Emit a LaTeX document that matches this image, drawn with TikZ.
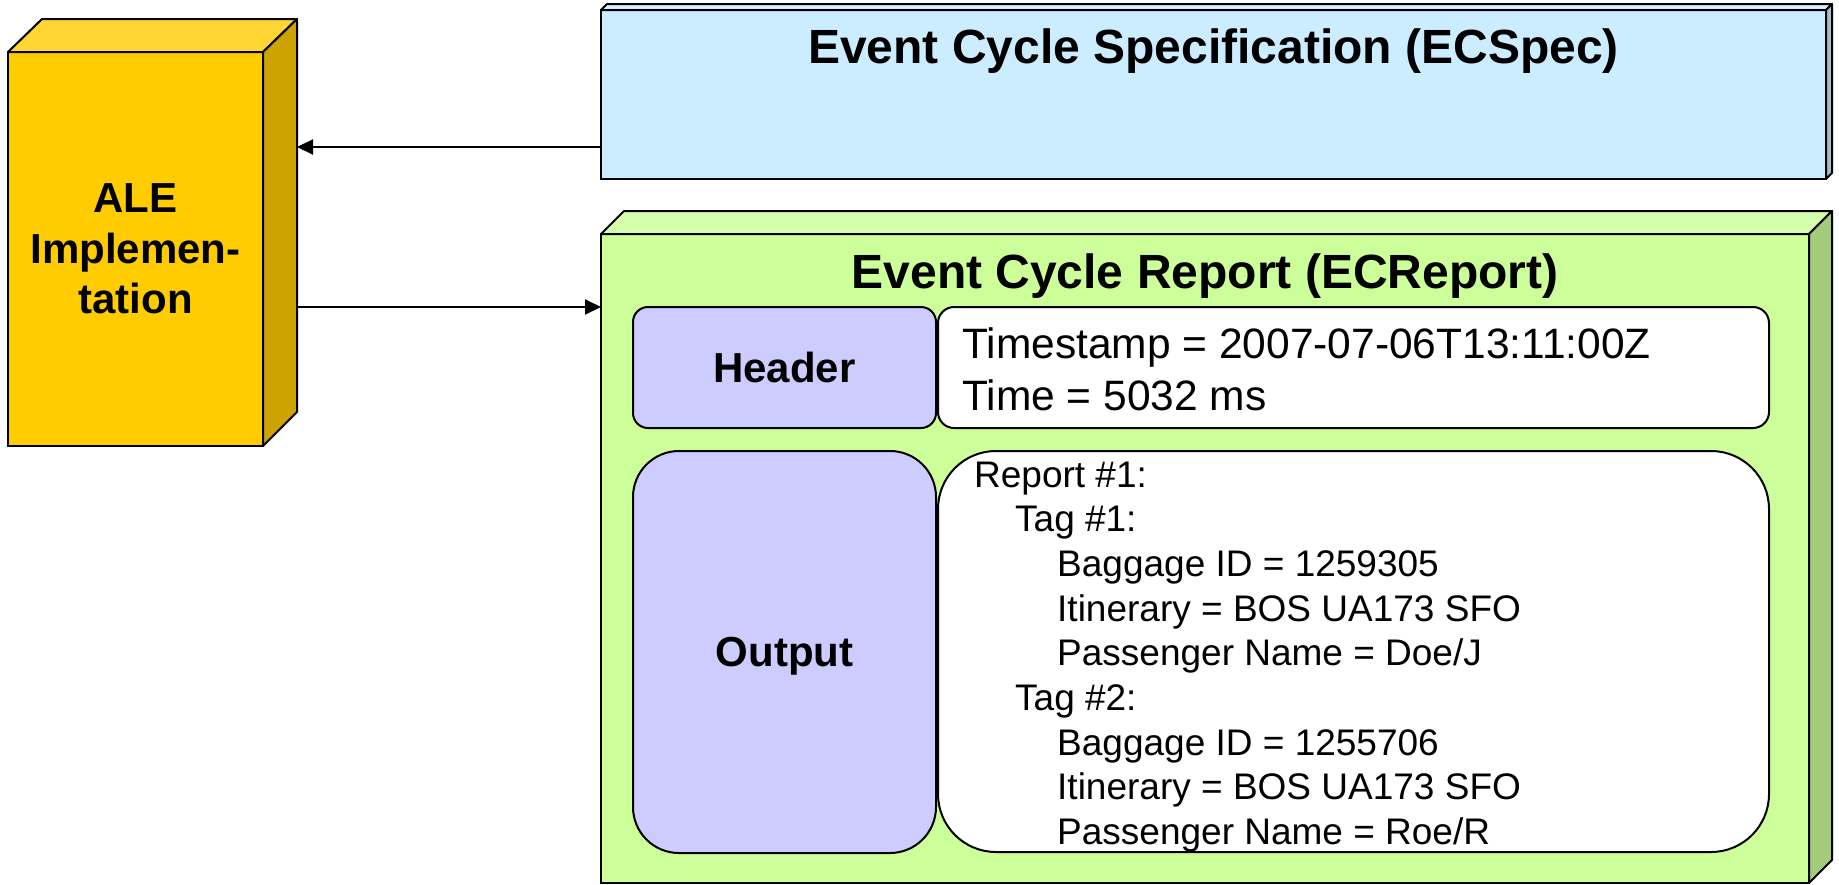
\documentclass[tikz,border=0pt]{standalone}
\usepackage{fontspec}
\setmainfont{Liberation Sans}
\usetikzlibrary{arrows.meta}
\definecolor{aleF}{HTML}{FFCC00}
\definecolor{aleT}{HTML}{FFD633}
\definecolor{aleR}{HTML}{CCA300}
\definecolor{specF}{HTML}{CCECFF}
\definecolor{specT}{HTML}{D6F0FF}
\definecolor{specR}{HTML}{A3BDCC}
\definecolor{repF}{HTML}{CCFF99}
\definecolor{repT}{HTML}{D6FFAD}
\definecolor{repR}{HTML}{A3CC7A}
\definecolor{lav}{HTML}{CCCCFF}
\tikzset{
  box/.style={draw, line width=2pt, inner sep=0pt, outer sep=0pt, anchor=north west},
  face/.style={draw, line width=2pt, line join=round},
  lbl/.style={box, fill=lav, font=\bfseries\fontsize{42}{50}\selectfont},
  title/.style={anchor=base, inner sep=0pt, font=\bfseries\fontsize{48}{58}\selectfont},
  hdrtxt/.style={anchor=base west, inner sep=0pt, font=\fontsize{42.5}{53}\selectfont},
  outtxt/.style={anchor=base west, inner sep=0pt, font=\fontsize{37}{44.7}\selectfont},
  arr/.style={line width=2pt, -{Triangle[length=16pt,width=15pt]}}
}
\begin{document}
\begin{tikzpicture}[x=1pt,y=-1pt]
\useasboundingbox (0,0) rectangle (1839,884);

% ALE implementation (3D box)
\node[box, fill=aleF, minimum width=255pt, minimum height=394pt, align=center,
      font=\bfseries\fontsize{42}{50.5}\selectfont] (ale) at (8,52) {ALE\\Implemen-\\tation};
\filldraw[face, fill=aleT] (8,52) -- (42,19) -- (297,19) -- (263,52) -- cycle;
\filldraw[face, fill=aleR] (263,52) -- (297,19) -- (297,412) -- (263,446) -- cycle;

% ECSpec
\node[box, fill=specF, minimum width=1225pt, minimum height=169pt] (spec) at (601,10) {};
\filldraw[face, fill=specT] (601,10) -- (607,4) -- (1832,4) -- (1826,10) -- cycle;
\filldraw[face, fill=specR] (1826,10) -- (1832,4) -- (1832,173) -- (1826,179) -- cycle;
\node[title] (specT) at (1213.5,63) {Event Cycle Specification (ECSpec)};

% ECReport
\node[box, fill=repF, minimum width=1208pt, minimum height=649pt] (rep) at (601,234) {};
\filldraw[face, fill=repT] (601,234) -- (624,211) -- (1832,211) -- (1809,234) -- cycle;
\filldraw[face, fill=repR] (1809,234) -- (1832,211) -- (1832,860) -- (1809,883) -- cycle;
\node[title] (repT) at (1205,288) {Event Cycle Report (ECReport)};

% Header
\node[lbl, rounded corners=15pt, minimum width=303pt, minimum height=121pt] (hdr) at (633,307) {Header};
\node[box, fill=white, rounded corners=16pt, minimum width=831pt, minimum height=121pt] (hdrc) at (938,307) {};
\node[hdrtxt] (ts) at (962,358) {Timestamp = 2007-07-06T13:11:00Z};
\node[hdrtxt] (tm) at (962,410) {Time = 5032 ms};

% Output
\node[lbl, rounded corners=46pt, minimum width=303pt, minimum height=402pt, text depth=0pt] (out) at (633,451) {Output};
\node[box, fill=white, rounded corners=58pt, minimum width=831pt, minimum height=401pt] (outc) at (938,451) {};
\foreach \t/\x [count=\i from 0] in {
  {Report \#1:}/974,
  {Tag \#1:}/1015,
  {Baggage ID = 1259305}/1057,
  {Itinerary = BOS UA173 SFO}/1057,
  {Passenger Name = Doe/J}/1057,
  {Tag \#2:}/1015,
  {Baggage ID = 1255706}/1057,
  {Itinerary = BOS UA173 SFO}/1057,
  {Passenger Name = Roe/R}/1057}
  \node[outtxt] (o\i) at (\x,{487+44.7*\i}) {\t};

% Connectors
\coordinate (a1) at (297,147);
\coordinate (a2) at (297,307);
\draw[arr] (spec.west |- a1) -- (a1);
\draw[arr] (a2) -- (a2 -| rep.west);
\end{tikzpicture}
\end{document}
